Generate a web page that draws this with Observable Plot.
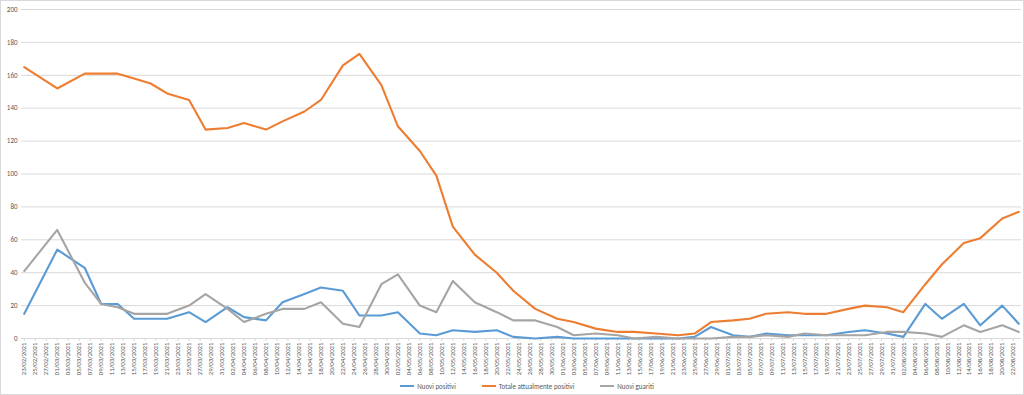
<!DOCTYPE html>
<html>
<head>
<meta charset="utf-8">
<script src="https://cdn.jsdelivr.net/npm/d3@7"></script>
<script src="https://cdn.jsdelivr.net/npm/@observablehq/plot@0.6"></script>
<style>
  body { margin: 0; background: #fff; }
  #chart { width: 1022px; height: 393px; border: 1px solid #d9d9d9; position: relative; overflow: hidden;
           font-family: Carlito, Calibri, Lato, sans-serif; background: #fff; }
  #chart svg { display: block; }
  #legend { display: flex; justify-content: center; align-items: center; margin-top: 4px; height: 14px;
            padding-left: 30px; font-size: 7px; color: #595959; }
  .item { display: flex; align-items: center; margin: 0 13px; }
  .sw { width: 14px; height: 2px; margin-right: 3px; }
</style>
</head>
<body>
<div id="chart"></div>
<script>
// ---- data ----
const dates = [
  "2021-02-23","2021-03-01","2021-03-06","2021-03-09","2021-03-12","2021-03-15","2021-03-18","2021-03-21",
  "2021-03-25","2021-03-28","2021-04-01","2021-04-04","2021-04-08","2021-04-11","2021-04-15","2021-04-18",
  "2021-04-22","2021-04-25","2021-04-29","2021-05-02","2021-05-06","2021-05-09","2021-05-12","2021-05-16",
  "2021-05-20","2021-05-23","2021-05-27","2021-05-31","2021-06-03","2021-06-07","2021-06-11","2021-06-14",
  "2021-06-18","2021-06-22","2021-06-25","2021-06-28","2021-07-02","2021-07-05","2021-07-08","2021-07-12",
  "2021-07-15","2021-07-19","2021-07-23","2021-07-26","2021-07-30","2021-08-02","2021-08-06","2021-08-09",
  "2021-08-13","2021-08-16","2021-08-20","2021-08-23"
];
const nuoviPositivi = [
  15,54,43,21,21,12,12,12,16,10,19,13,11,22,27,31,
  29,14,14,16,3,2,5,4,5,1,0,1,0,0,0,0,
  0,0,1,7,2,1,3,2,2,2,4,5,3,1,21,12,
  21,8,20,9
];
const totaleAttualmentePositivi = [
  165,152,161,161,161,158,155,149,145,127,128,131,127,132,138,145,
  166,173,154,129,114,99,68,51,40,29,18,12,10,6,4,4,
  3,2,3,10,11,12,15,16,15,15,18,20,19,16,33,45,
  58,61,73,77
];
const nuoviGuariti = [
  41,66,34,21,19,15,15,15,20,27,18,10,15,18,18,22,
  9,7,33,39,20,16,35,22,16,11,11,7,2,3,2,0,
  1,0,0,0,1,1,2,1,3,2,2,2,4,4,3,1,
  8,4,8,4
];
const seriesNames = ["Nuovi positivi", "Totale attualmente positivi", "Nuovi guariti"];
const seriesColors = ["#5B9BD5", "#ED7D31", "#A5A5A5"];
const yTicks = [0, 20, 40, 60, 80, 100, 120, 140, 160, 180, 200];
const xTickFirst = "2021-02-23";
const xTickStop = "2021-08-23";
const xTickStepDays = 2;

// ---- build ----
const parse = d3.utcParse("%Y-%m-%d");
const allSeries = [nuoviPositivi, totaleAttualmentePositivi, nuoviGuariti];
const rows = [];
allSeries.forEach((vals, i) => vals.forEach((v, j) => rows.push({date: parse(dates[j]), value: v, series: seriesNames[i]})));
const xTicks = d3.utcDay.range(parse(xTickFirst), parse(xTickStop), xTickStepDays);
const fmt = d3.utcFormat("%d/%m/%Y");

const plot = Plot.plot({
  width: 1022,
  height: 374,
  marginLeft: 20,
  marginRight: 2,
  marginTop: 8,
  marginBottom: 37,
  style: {fontFamily: "Carlito, Calibri, Lato, sans-serif", color: "#595959", background: "transparent", overflow: "visible"},
  x: {type: "utc", domain: [new Date(Date.UTC(2021, 1, 22, 12)), new Date(Date.UTC(2021, 7, 23, 12))]},
  y: {domain: [0, 200]},
  color: {domain: seriesNames, range: seriesColors},
  marks: [
    Plot.gridY(yTicks, {stroke: "#d9d9d9", strokeOpacity: 1, strokeWidth: 1}),
    Plot.axisY(yTicks, {tickSize: 0, tickPadding: 4, fontSize: 7, tickFormat: d => String(d), fill: "#595959", label: null}),
    Plot.axisX(xTicks, {tickFormat: fmt, tickRotate: -90, tickSize: 3, tickPadding: 1, fontSize: 6.8,
                        stroke: "#d9d9d9", fill: "#595959", label: null}),
    Plot.lineY(rows, {x: "date", y: "value", z: "series", stroke: "series", strokeWidth: 2.1,
                      strokeLinejoin: "round", strokeLinecap: "round"})
  ]
});
const chart = document.getElementById("chart");
chart.appendChild(plot);

const legend = document.createElement("div");
legend.id = "legend";
seriesNames.forEach((name, i) => {
  const item = document.createElement("div");
  item.className = "item";
  const sw = document.createElement("div");
  sw.className = "sw";
  sw.style.background = seriesColors[i];
  const t = document.createElement("span");
  t.textContent = name;
  item.appendChild(sw);
  item.appendChild(t);
  legend.appendChild(item);
});
chart.appendChild(legend);
</script>
</body>
</html>
